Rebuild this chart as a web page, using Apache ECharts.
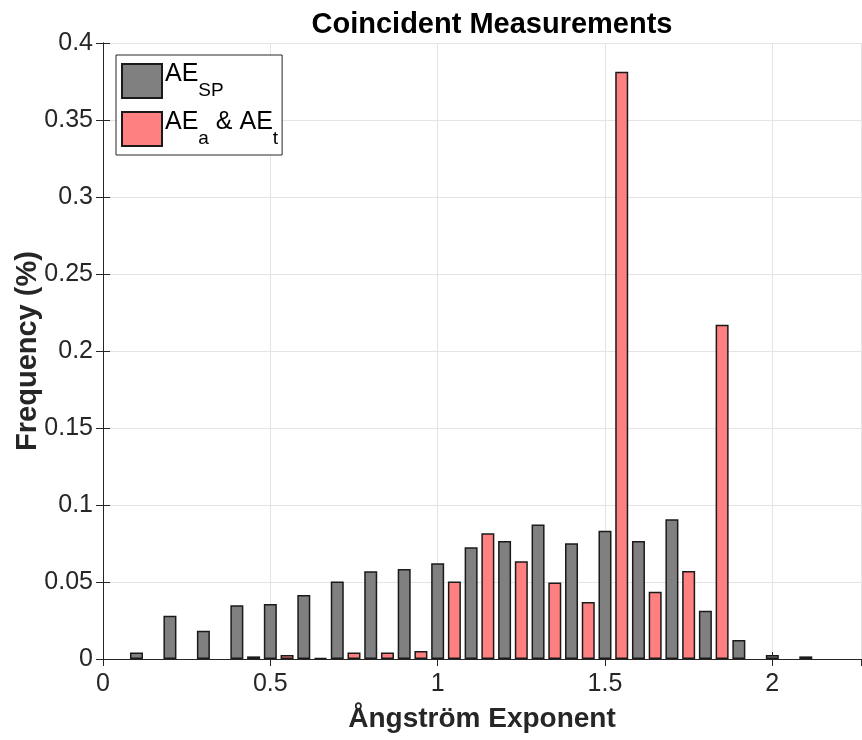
<!DOCTYPE html>
<html>
<head>
<meta charset="utf-8">
<script src="https://cdn.jsdelivr.net/npm/echarts@6/dist/echarts.min.js"></script>
<style>
html,body{margin:0;padding:0;background:#fff;}
#chart{width:862px;height:740px;}
</style>
</head>
<body>
<div id="chart"></div>
<script>
// Data
const spX = [0.1,0.2,0.3,0.4,0.5,0.6,0.7,0.8,0.9,1.0,1.1,1.2,1.3,1.4,1.5,1.6,1.7,1.8,1.9,2.0,2.1];
const spY = [0.0043,0.0281,0.0184,0.0349,0.0357,0.0416,0.0504,0.0569,0.0584,0.0621,0.0725,0.0766,0.0874,0.0751,0.0833,0.0766,0.0907,0.0314,0.0123,0.0026,0.0017];
const atX = [0.45,0.55,0.65,0.75,0.85,0.95,1.05,1.15,1.25,1.35,1.45,1.55,1.65,1.75,1.85];
const atY = [0.0017,0.0026,0.0006,0.0043,0.0043,0.0052,0.0504,0.0816,0.0634,0.0496,0.037,0.3814,0.0437,0.0571,0.2171];
const seriesNames = ['AE_SP','AE_a & AE_t'];
const titleText = 'Coincident Measurements';
const xName = 'Ångström Exponent';
const yName = 'Frequency (%)';

const FONT = 'Liberation Sans, Arial, sans-serif';
const axisColor = '#262626';
const gridColor = '#e4e4e4';

const chart = echarts.init(document.getElementById('chart'), null, {renderer:'canvas'});
const xMin = 0, xMax = 2.265, yMin = 0, yMax = 0.4;

const option = {
  animation: false,
  backgroundColor: '#fff',
  title: {
    text: titleText,
    left: 487,
    textAlign: 'center',
    top: 5,
    textStyle: {fontFamily: FONT, fontWeight: 'bold', fontSize: 29, color: '#000'}
  },
  legend: {
    orient: 'vertical',
    left: 116,
    top: 55,
    padding: [7, 4, 7, 5],
    itemWidth: 40,
    itemHeight: 34,
    itemGap: 10,
    icon: 'rect',
    backgroundColor: '#fff',
    borderColor: axisColor,
    borderWidth: 1,
    data: seriesNames,
    formatter: function (name) {
      if (name === seriesNames[0]) return '{m|AE}{s|SP}';
      return '{m|AE}{s|a}{m| & AE}{s|t}';
    },
    textStyle: {
      fontFamily: FONT,
      color: '#000',
      padding: [0, 0, 0, -2],
      rich: {
        m: {fontFamily: FONT, fontSize: 25, color: '#000', verticalAlign: 'top'},
        s: {fontFamily: FONT, fontSize: 19, color: '#000', verticalAlign: 'top', padding: [19, 0, 0, 0]}
      }
    }
  },
  grid: {left: 103, right: 1, top: 43, bottom: 81, containLabel: false, outerBoundsMode: 'none'},
  xAxis: [{
    type: 'value', min: xMin, max: xMax, interval: 0.5, position: 'bottom',
    name: xName, nameLocation: 'middle', nameGap: 46, nameMoveOverlap: false,
    nameTextStyle: {fontFamily: FONT, fontWeight: 'bold', fontSize: 28, color: axisColor},
    axisLine: {show: true, lineStyle: {color: axisColor, width: 1}},
    axisTick: {show: true, inside: true, length: 7, lineStyle: {color: axisColor}},
    axisLabel: {fontFamily: FONT, fontSize: 25, color: axisColor, margin: 13, showMaxLabel: false},
    splitLine: {show: true, lineStyle: {color: gridColor, width: 1}}
  }, {
    type: 'value', min: xMin, max: xMax, interval: 0.5, position: 'top',
    axisLine: {show: true, lineStyle: {color: axisColor, width: 1}},
    axisTick: {show: true, inside: true, length: 7, lineStyle: {color: axisColor}},
    axisLabel: {show: false},
    splitLine: {show: false}
  }],
  yAxis: [{
    type: 'value', min: yMin, max: yMax, interval: 0.05, position: 'left',
    name: yName, nameLocation: 'middle', nameGap: 61, nameRotate: 90, nameMoveOverlap: false,
    nameTextStyle: {fontFamily: FONT, fontWeight: 'bold', fontSize: 29, color: axisColor},
    axisLine: {show: true, lineStyle: {color: axisColor, width: 1}},
    axisTick: {show: true, inside: true, length: 7, lineStyle: {color: axisColor}},
    axisLabel: {fontFamily: FONT, fontSize: 25, color: axisColor, margin: 10},
    splitLine: {show: true, lineStyle: {color: gridColor, width: 1}}
  }, {
    type: 'value', min: yMin, max: yMax, interval: 0.05, position: 'right',
    axisLine: {show: true, lineStyle: {color: axisColor, width: 1}},
    axisTick: {show: true, inside: true, length: 7, lineStyle: {color: axisColor}},
    axisLabel: {show: false},
    splitLine: {show: false}
  }],
  series: [{
    name: seriesNames[0], type: 'bar', xAxisIndex: 0, yAxisIndex: 0,
    barWidth: 13, barGap: '-100%',
    itemStyle: {color: '#808080', borderColor: '#1a1a1a', borderWidth: 1.5},
    data: spX.map((x, i) => [x, spY[i]])
  }, {
    name: seriesNames[1], type: 'bar', xAxisIndex: 0, yAxisIndex: 0,
    barWidth: 13, barGap: '-100%',
    itemStyle: {color: '#ff8080', borderColor: '#1a1a1a', borderWidth: 1.5},
    data: atX.map((x, i) => [x, atY[i]])
  }]
};
chart.setOption(option);
</script>
</body>
</html>
